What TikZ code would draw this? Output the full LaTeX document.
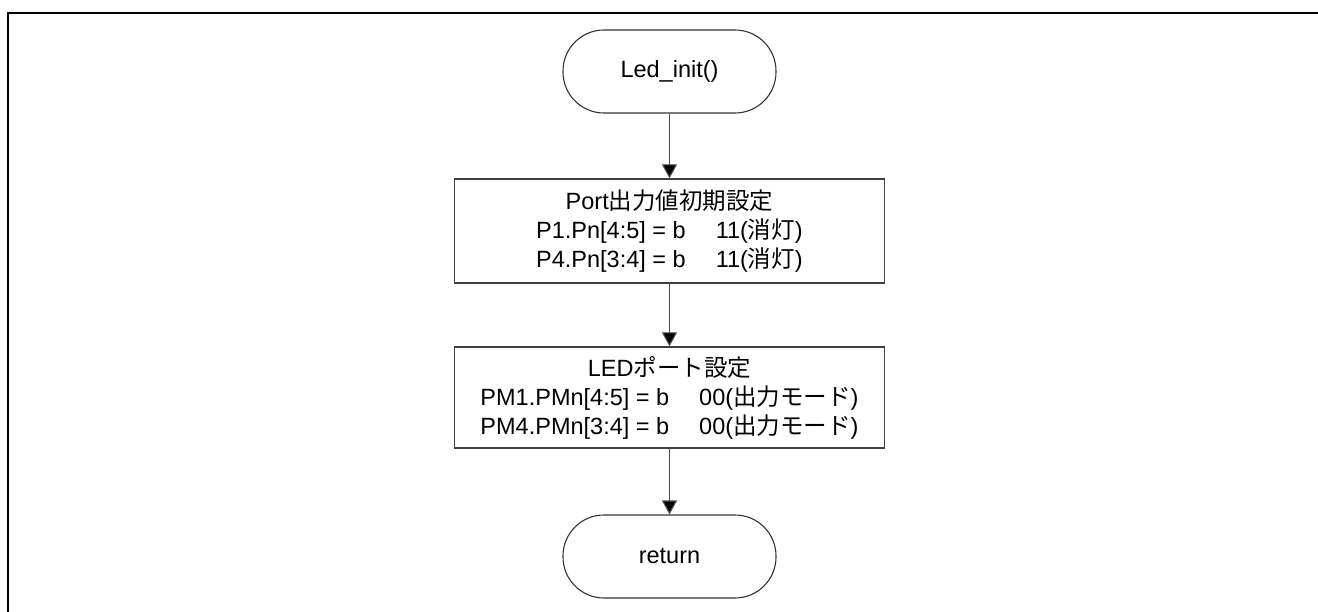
\documentclass[tikz,border=0pt]{standalone}
\usepackage{fontspec}
\setmainfont{Liberation Sans}
\newfontfamily\jp{Noto Sans CJK JP}
\usetikzlibrary{arrows.meta}
\begin{document}
\begin{tikzpicture}[x=1pt,y=-1pt,
  every node/.style={font=\fontsize{23.5}{29}\selectfont, inner sep=0pt, align=center},
  terminal/.style={draw=black!80, line width=1.1pt, rounded corners=41pt,
    minimum width=213pt, minimum height=83pt},
  procbox/.style={draw=black!75, line width=1.3pt, minimum width=430pt},
  flow/.style={draw=black!70, line width=1.1pt,
    -{Triangle[width=15pt,length=14pt,fill=black]}},
  frame/.style={line width=2pt}]
  \useasboundingbox (0,0) rectangle (1318,612);
  % outer frame, open on the right and at the bottom
  \draw[frame] (8,612) -- (8,13) -- (1318,13);

  \node[terminal] (start) at (669.5,71.5) {Led\_init()};
  \node[procbox, minimum height=104pt] (portinit) at (669.5,231)
    {Port{\jp 出力値初期設定}\\
     P1.Pn[4:5] = b\hspace{30pt}11({\jp 消灯})\\
     P4.Pn[3:4] = b\hspace{30pt}11({\jp 消灯})};
  \node[procbox, minimum height=101pt] (ledport) at (669.5,397.5)
    {LED{\jp ポート設定}\\
     PM1.PMn[4:5] = b\hspace{30pt}00({\jp 出力モード})\\
     PM4.PMn[3:4] = b\hspace{30pt}00({\jp 出力モード})};
  \node[terminal] (ret) at (669.5,556.5) {return};

  \draw[flow] (start) -- (portinit);
  \draw[flow] (portinit) -- (ledport);
  \draw[flow] (ledport) -- (ret);
\end{tikzpicture}
\end{document}
